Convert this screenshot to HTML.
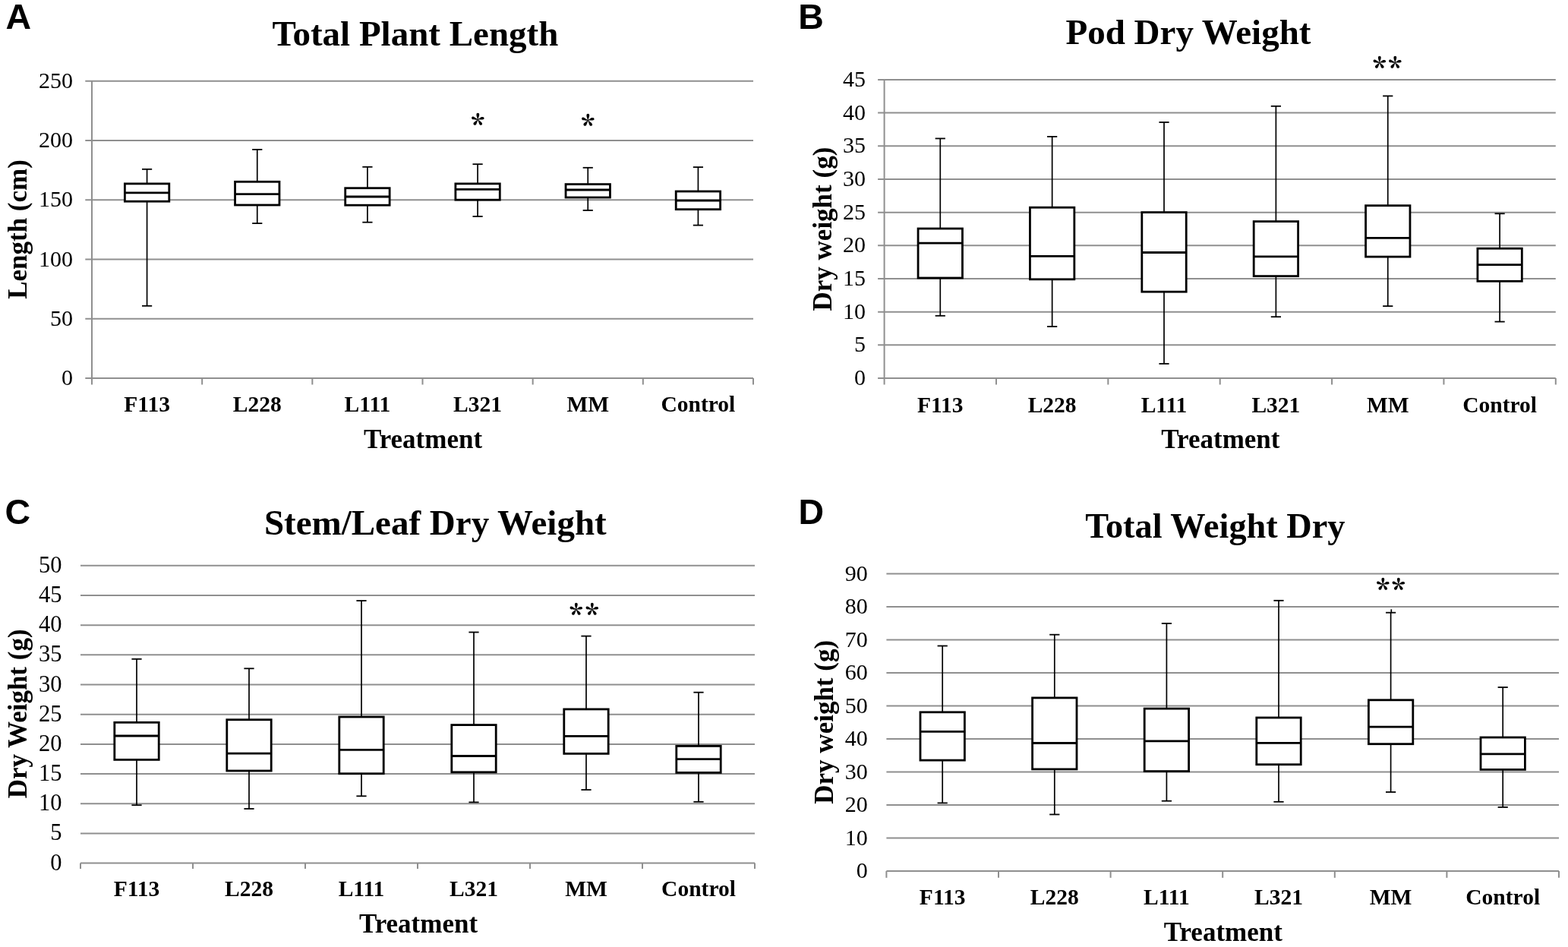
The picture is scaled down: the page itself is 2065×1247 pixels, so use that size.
<!DOCTYPE html>
<html><head><meta charset="utf-8"><title>Figure</title>
<style>
html,body{margin:0;padding:0;background:#fff;}
body{width:2065px;height:1247px;overflow:hidden;}
svg{display:block;}
</style></head><body>
<svg width="2065" height="1247" viewBox="0 0 2065 1247">
<rect width="2065" height="1247" fill="#fff"/>
<line x1="112.3" y1="498" x2="992" y2="498" stroke="#8f8f8f" stroke-width="2" stroke-linecap="butt"/>
<text x="96" y="507" font-family="'Liberation Serif', 'Times New Roman', serif" font-size="30" font-weight="normal" text-anchor="end">0</text>
<line x1="112.3" y1="419.75" x2="992" y2="419.75" stroke="#8f8f8f" stroke-width="2" stroke-linecap="butt"/>
<text x="96" y="428.75" font-family="'Liberation Serif', 'Times New Roman', serif" font-size="30" font-weight="normal" text-anchor="end">50</text>
<line x1="112.3" y1="341.5" x2="992" y2="341.5" stroke="#8f8f8f" stroke-width="2" stroke-linecap="butt"/>
<text x="96" y="350.5" font-family="'Liberation Serif', 'Times New Roman', serif" font-size="30" font-weight="normal" text-anchor="end">100</text>
<line x1="112.3" y1="263.25" x2="992" y2="263.25" stroke="#8f8f8f" stroke-width="2" stroke-linecap="butt"/>
<text x="96" y="272.25" font-family="'Liberation Serif', 'Times New Roman', serif" font-size="30" font-weight="normal" text-anchor="end">150</text>
<line x1="112.3" y1="185" x2="992" y2="185" stroke="#8f8f8f" stroke-width="2" stroke-linecap="butt"/>
<text x="96" y="194" font-family="'Liberation Serif', 'Times New Roman', serif" font-size="30" font-weight="normal" text-anchor="end">200</text>
<line x1="112.3" y1="106.75" x2="992" y2="106.75" stroke="#8f8f8f" stroke-width="2" stroke-linecap="butt"/>
<text x="96" y="115.75" font-family="'Liberation Serif', 'Times New Roman', serif" font-size="30" font-weight="normal" text-anchor="end">250</text>
<line x1="121" y1="105.95" x2="121" y2="498.8" stroke="#8f8f8f" stroke-width="2" stroke-linecap="butt"/>
<line x1="121" y1="498" x2="121" y2="506.5" stroke="#8f8f8f" stroke-width="2" stroke-linecap="butt"/>
<line x1="266.17" y1="498" x2="266.17" y2="506.5" stroke="#8f8f8f" stroke-width="2" stroke-linecap="butt"/>
<line x1="411.33" y1="498" x2="411.33" y2="506.5" stroke="#8f8f8f" stroke-width="2" stroke-linecap="butt"/>
<line x1="556.5" y1="498" x2="556.5" y2="506.5" stroke="#8f8f8f" stroke-width="2" stroke-linecap="butt"/>
<line x1="701.67" y1="498" x2="701.67" y2="506.5" stroke="#8f8f8f" stroke-width="2" stroke-linecap="butt"/>
<line x1="846.83" y1="498" x2="846.83" y2="506.5" stroke="#8f8f8f" stroke-width="2" stroke-linecap="butt"/>
<line x1="992" y1="498" x2="992" y2="506.5" stroke="#8f8f8f" stroke-width="2" stroke-linecap="butt"/>
<text x="193.58" y="542.4" font-family="'Liberation Serif', 'Times New Roman', serif" font-size="29.5" font-weight="bold" text-anchor="middle">F113</text>
<text x="338.75" y="542.4" font-family="'Liberation Serif', 'Times New Roman', serif" font-size="29.5" font-weight="bold" text-anchor="middle">L228</text>
<text x="483.92" y="542.4" font-family="'Liberation Serif', 'Times New Roman', serif" font-size="29.5" font-weight="bold" text-anchor="middle">L111</text>
<text x="629.08" y="542.4" font-family="'Liberation Serif', 'Times New Roman', serif" font-size="29.5" font-weight="bold" text-anchor="middle">L321</text>
<text x="774.25" y="542.4" font-family="'Liberation Serif', 'Times New Roman', serif" font-size="29.5" font-weight="bold" text-anchor="middle">MM</text>
<text x="919.42" y="542.4" font-family="'Liberation Serif', 'Times New Roman', serif" font-size="29.5" font-weight="bold" text-anchor="middle">Control</text>
<line x1="193.58" y1="222.8" x2="193.58" y2="241.9" stroke="#000" stroke-width="1.7" stroke-linecap="butt"/>
<line x1="193.58" y1="265.2" x2="193.58" y2="402.8" stroke="#000" stroke-width="1.7" stroke-linecap="butt"/>
<line x1="186.98" y1="222.8" x2="200.18" y2="222.8" stroke="#000" stroke-width="1.8" stroke-linecap="butt"/>
<line x1="186.98" y1="402.8" x2="200.18" y2="402.8" stroke="#000" stroke-width="1.8" stroke-linecap="butt"/>
<rect x="164.38" y="241.9" width="58.4" height="23.3" fill="#fff" stroke="#000" stroke-width="2.8"/>
<line x1="164.38" y1="253.9" x2="222.78" y2="253.9" stroke="#000" stroke-width="2.8" stroke-linecap="butt"/>
<line x1="338.75" y1="196.9" x2="338.75" y2="239.3" stroke="#000" stroke-width="1.7" stroke-linecap="butt"/>
<line x1="338.75" y1="270" x2="338.75" y2="294.1" stroke="#000" stroke-width="1.7" stroke-linecap="butt"/>
<line x1="332.15" y1="196.9" x2="345.35" y2="196.9" stroke="#000" stroke-width="1.8" stroke-linecap="butt"/>
<line x1="332.15" y1="294.1" x2="345.35" y2="294.1" stroke="#000" stroke-width="1.8" stroke-linecap="butt"/>
<rect x="309.55" y="239.3" width="58.4" height="30.7" fill="#fff" stroke="#000" stroke-width="2.8"/>
<line x1="309.55" y1="255.6" x2="367.95" y2="255.6" stroke="#000" stroke-width="2.8" stroke-linecap="butt"/>
<line x1="483.92" y1="219.8" x2="483.92" y2="247.7" stroke="#000" stroke-width="1.7" stroke-linecap="butt"/>
<line x1="483.92" y1="270.2" x2="483.92" y2="292.7" stroke="#000" stroke-width="1.7" stroke-linecap="butt"/>
<line x1="477.32" y1="219.8" x2="490.52" y2="219.8" stroke="#000" stroke-width="1.8" stroke-linecap="butt"/>
<line x1="477.32" y1="292.7" x2="490.52" y2="292.7" stroke="#000" stroke-width="1.8" stroke-linecap="butt"/>
<rect x="454.72" y="247.7" width="58.4" height="22.5" fill="#fff" stroke="#000" stroke-width="2.8"/>
<line x1="454.72" y1="259" x2="513.12" y2="259" stroke="#000" stroke-width="2.8" stroke-linecap="butt"/>
<line x1="629.08" y1="216.2" x2="629.08" y2="241.9" stroke="#000" stroke-width="1.7" stroke-linecap="butt"/>
<line x1="629.08" y1="263.2" x2="629.08" y2="285" stroke="#000" stroke-width="1.7" stroke-linecap="butt"/>
<line x1="622.48" y1="216.2" x2="635.68" y2="216.2" stroke="#000" stroke-width="1.8" stroke-linecap="butt"/>
<line x1="622.48" y1="285" x2="635.68" y2="285" stroke="#000" stroke-width="1.8" stroke-linecap="butt"/>
<rect x="599.88" y="241.9" width="58.4" height="21.3" fill="#fff" stroke="#000" stroke-width="2.8"/>
<line x1="599.88" y1="249.4" x2="658.28" y2="249.4" stroke="#000" stroke-width="2.8" stroke-linecap="butt"/>
<line x1="774.25" y1="220.8" x2="774.25" y2="242.6" stroke="#000" stroke-width="1.7" stroke-linecap="butt"/>
<line x1="774.25" y1="260" x2="774.25" y2="277" stroke="#000" stroke-width="1.7" stroke-linecap="butt"/>
<line x1="767.65" y1="220.8" x2="780.85" y2="220.8" stroke="#000" stroke-width="1.8" stroke-linecap="butt"/>
<line x1="767.65" y1="277" x2="780.85" y2="277" stroke="#000" stroke-width="1.8" stroke-linecap="butt"/>
<rect x="745.05" y="242.6" width="58.4" height="17.4" fill="#fff" stroke="#000" stroke-width="2.8"/>
<line x1="745.05" y1="250" x2="803.45" y2="250" stroke="#000" stroke-width="2.8" stroke-linecap="butt"/>
<line x1="919.42" y1="220.1" x2="919.42" y2="252" stroke="#000" stroke-width="1.7" stroke-linecap="butt"/>
<line x1="919.42" y1="275.7" x2="919.42" y2="296.6" stroke="#000" stroke-width="1.7" stroke-linecap="butt"/>
<line x1="912.82" y1="220.1" x2="926.02" y2="220.1" stroke="#000" stroke-width="1.8" stroke-linecap="butt"/>
<line x1="912.82" y1="296.6" x2="926.02" y2="296.6" stroke="#000" stroke-width="1.8" stroke-linecap="butt"/>
<rect x="890.22" y="252" width="58.4" height="23.7" fill="#fff" stroke="#000" stroke-width="2.8"/>
<line x1="890.22" y1="264" x2="948.62" y2="264" stroke="#000" stroke-width="2.8" stroke-linecap="butt"/>
<text x="358.4" y="59.8" font-family="'Liberation Serif', 'Times New Roman', serif" font-size="47" font-weight="bold" text-anchor="start">Total Plant Length</text>
<text x="557" y="589.6" font-family="'Liberation Serif', 'Times New Roman', serif" font-size="35" font-weight="bold" text-anchor="middle">Treatment</text>
<text transform="translate(34.5,302) rotate(-90)" font-family="'Liberation Serif', 'Times New Roman', serif" font-size="35" font-weight="bold" text-anchor="middle">Length (cm)</text>
<text x="7.6" y="38.3" font-family="'Liberation Sans', Arial, sans-serif" font-size="46.5" font-weight="bold" text-anchor="start">A</text>
<text x="620.4" y="179.4" font-family="'Noto Serif CJK SC', 'Noto Serif CJK JP', 'Liberation Serif', serif" font-size="36" font-weight="900">*</text>
<text x="765.5" y="180.3" font-family="'Noto Serif CJK SC', 'Noto Serif CJK JP', 'Liberation Serif', serif" font-size="36" font-weight="900">*</text>
<line x1="1156.1" y1="498" x2="2048.8" y2="498" stroke="#8f8f8f" stroke-width="2" stroke-linecap="butt"/>
<text x="1140" y="507" font-family="'Liberation Serif', 'Times New Roman', serif" font-size="30" font-weight="normal" text-anchor="end">0</text>
<line x1="1156.1" y1="454.33" x2="2048.8" y2="454.33" stroke="#8f8f8f" stroke-width="2" stroke-linecap="butt"/>
<text x="1140" y="463.33" font-family="'Liberation Serif', 'Times New Roman', serif" font-size="30" font-weight="normal" text-anchor="end">5</text>
<line x1="1156.1" y1="410.66" x2="2048.8" y2="410.66" stroke="#8f8f8f" stroke-width="2" stroke-linecap="butt"/>
<text x="1140" y="419.66" font-family="'Liberation Serif', 'Times New Roman', serif" font-size="30" font-weight="normal" text-anchor="end">10</text>
<line x1="1156.1" y1="366.98" x2="2048.8" y2="366.98" stroke="#8f8f8f" stroke-width="2" stroke-linecap="butt"/>
<text x="1140" y="375.98" font-family="'Liberation Serif', 'Times New Roman', serif" font-size="30" font-weight="normal" text-anchor="end">15</text>
<line x1="1156.1" y1="323.31" x2="2048.8" y2="323.31" stroke="#8f8f8f" stroke-width="2" stroke-linecap="butt"/>
<text x="1140" y="332.31" font-family="'Liberation Serif', 'Times New Roman', serif" font-size="30" font-weight="normal" text-anchor="end">20</text>
<line x1="1156.1" y1="279.64" x2="2048.8" y2="279.64" stroke="#8f8f8f" stroke-width="2" stroke-linecap="butt"/>
<text x="1140" y="288.64" font-family="'Liberation Serif', 'Times New Roman', serif" font-size="30" font-weight="normal" text-anchor="end">25</text>
<line x1="1156.1" y1="235.97" x2="2048.8" y2="235.97" stroke="#8f8f8f" stroke-width="2" stroke-linecap="butt"/>
<text x="1140" y="244.97" font-family="'Liberation Serif', 'Times New Roman', serif" font-size="30" font-weight="normal" text-anchor="end">30</text>
<line x1="1156.1" y1="192.29" x2="2048.8" y2="192.29" stroke="#8f8f8f" stroke-width="2" stroke-linecap="butt"/>
<text x="1140" y="201.29" font-family="'Liberation Serif', 'Times New Roman', serif" font-size="30" font-weight="normal" text-anchor="end">35</text>
<line x1="1156.1" y1="148.62" x2="2048.8" y2="148.62" stroke="#8f8f8f" stroke-width="2" stroke-linecap="butt"/>
<text x="1140" y="157.62" font-family="'Liberation Serif', 'Times New Roman', serif" font-size="30" font-weight="normal" text-anchor="end">40</text>
<line x1="1156.1" y1="104.95" x2="2048.8" y2="104.95" stroke="#8f8f8f" stroke-width="2" stroke-linecap="butt"/>
<text x="1140" y="113.95" font-family="'Liberation Serif', 'Times New Roman', serif" font-size="30" font-weight="normal" text-anchor="end">45</text>
<line x1="1164.6" y1="104.15" x2="1164.6" y2="498.8" stroke="#8f8f8f" stroke-width="2" stroke-linecap="butt"/>
<line x1="1164.6" y1="498" x2="1164.6" y2="506.5" stroke="#8f8f8f" stroke-width="2" stroke-linecap="butt"/>
<line x1="1311.97" y1="498" x2="1311.97" y2="506.5" stroke="#8f8f8f" stroke-width="2" stroke-linecap="butt"/>
<line x1="1459.33" y1="498" x2="1459.33" y2="506.5" stroke="#8f8f8f" stroke-width="2" stroke-linecap="butt"/>
<line x1="1606.7" y1="498" x2="1606.7" y2="506.5" stroke="#8f8f8f" stroke-width="2" stroke-linecap="butt"/>
<line x1="1754.07" y1="498" x2="1754.07" y2="506.5" stroke="#8f8f8f" stroke-width="2" stroke-linecap="butt"/>
<line x1="1901.43" y1="498" x2="1901.43" y2="506.5" stroke="#8f8f8f" stroke-width="2" stroke-linecap="butt"/>
<line x1="2048.8" y1="498" x2="2048.8" y2="506.5" stroke="#8f8f8f" stroke-width="2" stroke-linecap="butt"/>
<text x="1238.28" y="542.6" font-family="'Liberation Serif', 'Times New Roman', serif" font-size="29.5" font-weight="bold" text-anchor="middle">F113</text>
<text x="1385.65" y="542.6" font-family="'Liberation Serif', 'Times New Roman', serif" font-size="29.5" font-weight="bold" text-anchor="middle">L228</text>
<text x="1533.02" y="542.6" font-family="'Liberation Serif', 'Times New Roman', serif" font-size="29.5" font-weight="bold" text-anchor="middle">L111</text>
<text x="1680.38" y="542.6" font-family="'Liberation Serif', 'Times New Roman', serif" font-size="29.5" font-weight="bold" text-anchor="middle">L321</text>
<text x="1827.75" y="542.6" font-family="'Liberation Serif', 'Times New Roman', serif" font-size="29.5" font-weight="bold" text-anchor="middle">MM</text>
<text x="1975.12" y="542.6" font-family="'Liberation Serif', 'Times New Roman', serif" font-size="29.5" font-weight="bold" text-anchor="middle">Control</text>
<line x1="1238.28" y1="182.4" x2="1238.28" y2="301" stroke="#000" stroke-width="1.7" stroke-linecap="butt"/>
<line x1="1238.28" y1="366" x2="1238.28" y2="415.8" stroke="#000" stroke-width="1.7" stroke-linecap="butt"/>
<line x1="1231.68" y1="182.4" x2="1244.88" y2="182.4" stroke="#000" stroke-width="1.8" stroke-linecap="butt"/>
<line x1="1231.68" y1="415.8" x2="1244.88" y2="415.8" stroke="#000" stroke-width="1.8" stroke-linecap="butt"/>
<rect x="1209.08" y="301" width="58.4" height="65" fill="#fff" stroke="#000" stroke-width="2.8"/>
<line x1="1209.08" y1="320.1" x2="1267.48" y2="320.1" stroke="#000" stroke-width="2.8" stroke-linecap="butt"/>
<line x1="1385.65" y1="179.9" x2="1385.65" y2="273.2" stroke="#000" stroke-width="1.7" stroke-linecap="butt"/>
<line x1="1385.65" y1="367.8" x2="1385.65" y2="430" stroke="#000" stroke-width="1.7" stroke-linecap="butt"/>
<line x1="1379.05" y1="179.9" x2="1392.25" y2="179.9" stroke="#000" stroke-width="1.8" stroke-linecap="butt"/>
<line x1="1379.05" y1="430" x2="1392.25" y2="430" stroke="#000" stroke-width="1.8" stroke-linecap="butt"/>
<rect x="1356.45" y="273.2" width="58.4" height="94.6" fill="#fff" stroke="#000" stroke-width="2.8"/>
<line x1="1356.45" y1="337.3" x2="1414.85" y2="337.3" stroke="#000" stroke-width="2.8" stroke-linecap="butt"/>
<line x1="1533.02" y1="161" x2="1533.02" y2="279.6" stroke="#000" stroke-width="1.7" stroke-linecap="butt"/>
<line x1="1533.02" y1="384.2" x2="1533.02" y2="479" stroke="#000" stroke-width="1.7" stroke-linecap="butt"/>
<line x1="1526.42" y1="161" x2="1539.62" y2="161" stroke="#000" stroke-width="1.8" stroke-linecap="butt"/>
<line x1="1526.42" y1="479" x2="1539.62" y2="479" stroke="#000" stroke-width="1.8" stroke-linecap="butt"/>
<rect x="1503.82" y="279.6" width="58.4" height="104.6" fill="#fff" stroke="#000" stroke-width="2.8"/>
<line x1="1503.82" y1="332.5" x2="1562.22" y2="332.5" stroke="#000" stroke-width="2.8" stroke-linecap="butt"/>
<line x1="1680.38" y1="139.8" x2="1680.38" y2="291.6" stroke="#000" stroke-width="1.7" stroke-linecap="butt"/>
<line x1="1680.38" y1="363.6" x2="1680.38" y2="417.2" stroke="#000" stroke-width="1.7" stroke-linecap="butt"/>
<line x1="1673.78" y1="139.8" x2="1686.98" y2="139.8" stroke="#000" stroke-width="1.8" stroke-linecap="butt"/>
<line x1="1673.78" y1="417.2" x2="1686.98" y2="417.2" stroke="#000" stroke-width="1.8" stroke-linecap="butt"/>
<rect x="1651.18" y="291.6" width="58.4" height="72" fill="#fff" stroke="#000" stroke-width="2.8"/>
<line x1="1651.18" y1="337.8" x2="1709.58" y2="337.8" stroke="#000" stroke-width="2.8" stroke-linecap="butt"/>
<line x1="1827.75" y1="126.4" x2="1827.75" y2="270.7" stroke="#000" stroke-width="1.7" stroke-linecap="butt"/>
<line x1="1827.75" y1="338.1" x2="1827.75" y2="403.1" stroke="#000" stroke-width="1.7" stroke-linecap="butt"/>
<line x1="1821.15" y1="126.4" x2="1834.35" y2="126.4" stroke="#000" stroke-width="1.8" stroke-linecap="butt"/>
<line x1="1821.15" y1="403.1" x2="1834.35" y2="403.1" stroke="#000" stroke-width="1.8" stroke-linecap="butt"/>
<rect x="1798.55" y="270.7" width="58.4" height="67.4" fill="#fff" stroke="#000" stroke-width="2.8"/>
<line x1="1798.55" y1="313.4" x2="1856.95" y2="313.4" stroke="#000" stroke-width="2.8" stroke-linecap="butt"/>
<line x1="1975.12" y1="281.3" x2="1975.12" y2="327.2" stroke="#000" stroke-width="1.7" stroke-linecap="butt"/>
<line x1="1975.12" y1="370.3" x2="1975.12" y2="423.6" stroke="#000" stroke-width="1.7" stroke-linecap="butt"/>
<line x1="1968.52" y1="281.3" x2="1981.72" y2="281.3" stroke="#000" stroke-width="1.8" stroke-linecap="butt"/>
<line x1="1968.52" y1="423.6" x2="1981.72" y2="423.6" stroke="#000" stroke-width="1.8" stroke-linecap="butt"/>
<rect x="1945.92" y="327.2" width="58.4" height="43.1" fill="#fff" stroke="#000" stroke-width="2.8"/>
<line x1="1945.92" y1="348.7" x2="2004.32" y2="348.7" stroke="#000" stroke-width="2.8" stroke-linecap="butt"/>
<text x="1403.5" y="57.5" font-family="'Liberation Serif', 'Times New Roman', serif" font-size="47" font-weight="bold" text-anchor="start">Pod Dry Weight</text>
<text x="1607.4" y="589.6" font-family="'Liberation Serif', 'Times New Roman', serif" font-size="35" font-weight="bold" text-anchor="middle">Treatment</text>
<text transform="translate(1094.8,301.6) rotate(-90)" font-family="'Liberation Serif', 'Times New Roman', serif" font-size="35" font-weight="bold" text-anchor="middle">Dry weight (g)</text>
<text x="1051.2" y="38.1" font-family="'Liberation Sans', Arial, sans-serif" font-size="46.5" font-weight="bold" text-anchor="start">B</text>
<text x="1808" y="103.6" font-family="'Noto Serif CJK SC', 'Noto Serif CJK JP', 'Liberation Serif', serif" font-size="36" font-weight="900" letter-spacing="3">**</text>
<line x1="106" y1="1136.6" x2="994" y2="1136.6" stroke="#8f8f8f" stroke-width="2" stroke-linecap="butt"/>
<text x="81.5" y="1145.6" font-family="'Liberation Serif', 'Times New Roman', serif" font-size="30.5" font-weight="normal" text-anchor="end">0</text>
<line x1="106" y1="1097.42" x2="994" y2="1097.42" stroke="#8f8f8f" stroke-width="2" stroke-linecap="butt"/>
<text x="81.5" y="1106.42" font-family="'Liberation Serif', 'Times New Roman', serif" font-size="30.5" font-weight="normal" text-anchor="end">5</text>
<line x1="106" y1="1058.24" x2="994" y2="1058.24" stroke="#8f8f8f" stroke-width="2" stroke-linecap="butt"/>
<text x="81.5" y="1067.24" font-family="'Liberation Serif', 'Times New Roman', serif" font-size="30.5" font-weight="normal" text-anchor="end">10</text>
<line x1="106" y1="1019.06" x2="994" y2="1019.06" stroke="#8f8f8f" stroke-width="2" stroke-linecap="butt"/>
<text x="81.5" y="1028.06" font-family="'Liberation Serif', 'Times New Roman', serif" font-size="30.5" font-weight="normal" text-anchor="end">15</text>
<line x1="106" y1="979.88" x2="994" y2="979.88" stroke="#8f8f8f" stroke-width="2" stroke-linecap="butt"/>
<text x="81.5" y="988.88" font-family="'Liberation Serif', 'Times New Roman', serif" font-size="30.5" font-weight="normal" text-anchor="end">20</text>
<line x1="106" y1="940.7" x2="994" y2="940.7" stroke="#8f8f8f" stroke-width="2" stroke-linecap="butt"/>
<text x="81.5" y="949.7" font-family="'Liberation Serif', 'Times New Roman', serif" font-size="30.5" font-weight="normal" text-anchor="end">25</text>
<line x1="106" y1="901.52" x2="994" y2="901.52" stroke="#8f8f8f" stroke-width="2" stroke-linecap="butt"/>
<text x="81.5" y="910.52" font-family="'Liberation Serif', 'Times New Roman', serif" font-size="30.5" font-weight="normal" text-anchor="end">30</text>
<line x1="106" y1="862.34" x2="994" y2="862.34" stroke="#8f8f8f" stroke-width="2" stroke-linecap="butt"/>
<text x="81.5" y="871.34" font-family="'Liberation Serif', 'Times New Roman', serif" font-size="30.5" font-weight="normal" text-anchor="end">35</text>
<line x1="106" y1="823.16" x2="994" y2="823.16" stroke="#8f8f8f" stroke-width="2" stroke-linecap="butt"/>
<text x="81.5" y="832.16" font-family="'Liberation Serif', 'Times New Roman', serif" font-size="30.5" font-weight="normal" text-anchor="end">40</text>
<line x1="106" y1="783.98" x2="994" y2="783.98" stroke="#8f8f8f" stroke-width="2" stroke-linecap="butt"/>
<text x="81.5" y="792.98" font-family="'Liberation Serif', 'Times New Roman', serif" font-size="30.5" font-weight="normal" text-anchor="end">45</text>
<line x1="106" y1="744.8" x2="994" y2="744.8" stroke="#8f8f8f" stroke-width="2" stroke-linecap="butt"/>
<text x="81.5" y="753.8" font-family="'Liberation Serif', 'Times New Roman', serif" font-size="30.5" font-weight="normal" text-anchor="end">50</text>
<line x1="106" y1="1136.6" x2="106" y2="1144.1" stroke="#8f8f8f" stroke-width="2" stroke-linecap="butt"/>
<line x1="254" y1="1136.6" x2="254" y2="1144.1" stroke="#8f8f8f" stroke-width="2" stroke-linecap="butt"/>
<line x1="402" y1="1136.6" x2="402" y2="1144.1" stroke="#8f8f8f" stroke-width="2" stroke-linecap="butt"/>
<line x1="550" y1="1136.6" x2="550" y2="1144.1" stroke="#8f8f8f" stroke-width="2" stroke-linecap="butt"/>
<line x1="698" y1="1136.6" x2="698" y2="1144.1" stroke="#8f8f8f" stroke-width="2" stroke-linecap="butt"/>
<line x1="846" y1="1136.6" x2="846" y2="1144.1" stroke="#8f8f8f" stroke-width="2" stroke-linecap="butt"/>
<line x1="994" y1="1136.6" x2="994" y2="1144.1" stroke="#8f8f8f" stroke-width="2" stroke-linecap="butt"/>
<text x="180" y="1180.4" font-family="'Liberation Serif', 'Times New Roman', serif" font-size="29.5" font-weight="bold" text-anchor="middle">F113</text>
<text x="328" y="1180.4" font-family="'Liberation Serif', 'Times New Roman', serif" font-size="29.5" font-weight="bold" text-anchor="middle">L228</text>
<text x="476" y="1180.4" font-family="'Liberation Serif', 'Times New Roman', serif" font-size="29.5" font-weight="bold" text-anchor="middle">L111</text>
<text x="624" y="1180.4" font-family="'Liberation Serif', 'Times New Roman', serif" font-size="29.5" font-weight="bold" text-anchor="middle">L321</text>
<text x="772" y="1180.4" font-family="'Liberation Serif', 'Times New Roman', serif" font-size="29.5" font-weight="bold" text-anchor="middle">MM</text>
<text x="920" y="1180.4" font-family="'Liberation Serif', 'Times New Roman', serif" font-size="29.5" font-weight="bold" text-anchor="middle">Control</text>
<line x1="180" y1="867.8" x2="180" y2="951.3" stroke="#000" stroke-width="1.7" stroke-linecap="butt"/>
<line x1="180" y1="1000.4" x2="180" y2="1060.2" stroke="#000" stroke-width="1.7" stroke-linecap="butt"/>
<line x1="173.4" y1="867.8" x2="186.6" y2="867.8" stroke="#000" stroke-width="1.8" stroke-linecap="butt"/>
<line x1="173.4" y1="1060.2" x2="186.6" y2="1060.2" stroke="#000" stroke-width="1.8" stroke-linecap="butt"/>
<rect x="150.8" y="951.3" width="58.4" height="49.1" fill="#fff" stroke="#000" stroke-width="2.8"/>
<line x1="150.8" y1="969" x2="209.2" y2="969" stroke="#000" stroke-width="2.8" stroke-linecap="butt"/>
<line x1="328" y1="880.3" x2="328" y2="947.7" stroke="#000" stroke-width="1.7" stroke-linecap="butt"/>
<line x1="328" y1="1015" x2="328" y2="1065" stroke="#000" stroke-width="1.7" stroke-linecap="butt"/>
<line x1="321.4" y1="880.3" x2="334.6" y2="880.3" stroke="#000" stroke-width="1.8" stroke-linecap="butt"/>
<line x1="321.4" y1="1065" x2="334.6" y2="1065" stroke="#000" stroke-width="1.8" stroke-linecap="butt"/>
<rect x="298.8" y="947.7" width="58.4" height="67.3" fill="#fff" stroke="#000" stroke-width="2.8"/>
<line x1="298.8" y1="992.2" x2="357.2" y2="992.2" stroke="#000" stroke-width="2.8" stroke-linecap="butt"/>
<line x1="476" y1="791" x2="476" y2="944" stroke="#000" stroke-width="1.7" stroke-linecap="butt"/>
<line x1="476" y1="1018.7" x2="476" y2="1048.3" stroke="#000" stroke-width="1.7" stroke-linecap="butt"/>
<line x1="469.4" y1="791" x2="482.6" y2="791" stroke="#000" stroke-width="1.8" stroke-linecap="butt"/>
<line x1="469.4" y1="1048.3" x2="482.6" y2="1048.3" stroke="#000" stroke-width="1.8" stroke-linecap="butt"/>
<rect x="446.8" y="944" width="58.4" height="74.7" fill="#fff" stroke="#000" stroke-width="2.8"/>
<line x1="446.8" y1="987.3" x2="505.2" y2="987.3" stroke="#000" stroke-width="2.8" stroke-linecap="butt"/>
<line x1="624" y1="832.5" x2="624" y2="954.6" stroke="#000" stroke-width="1.7" stroke-linecap="butt"/>
<line x1="624" y1="1016.8" x2="624" y2="1056.4" stroke="#000" stroke-width="1.7" stroke-linecap="butt"/>
<line x1="617.4" y1="832.5" x2="630.6" y2="832.5" stroke="#000" stroke-width="1.8" stroke-linecap="butt"/>
<line x1="617.4" y1="1056.4" x2="630.6" y2="1056.4" stroke="#000" stroke-width="1.8" stroke-linecap="butt"/>
<rect x="594.8" y="954.6" width="58.4" height="62.2" fill="#fff" stroke="#000" stroke-width="2.8"/>
<line x1="594.8" y1="995.5" x2="653.2" y2="995.5" stroke="#000" stroke-width="2.8" stroke-linecap="butt"/>
<line x1="772" y1="837.6" x2="772" y2="933.9" stroke="#000" stroke-width="1.7" stroke-linecap="butt"/>
<line x1="772" y1="992.4" x2="772" y2="1040" stroke="#000" stroke-width="1.7" stroke-linecap="butt"/>
<line x1="765.4" y1="837.6" x2="778.6" y2="837.6" stroke="#000" stroke-width="1.8" stroke-linecap="butt"/>
<line x1="765.4" y1="1040" x2="778.6" y2="1040" stroke="#000" stroke-width="1.8" stroke-linecap="butt"/>
<rect x="742.8" y="933.9" width="58.4" height="58.5" fill="#fff" stroke="#000" stroke-width="2.8"/>
<line x1="742.8" y1="969.3" x2="801.2" y2="969.3" stroke="#000" stroke-width="2.8" stroke-linecap="butt"/>
<line x1="920" y1="911.7" x2="920" y2="982.4" stroke="#000" stroke-width="1.7" stroke-linecap="butt"/>
<line x1="920" y1="1017.4" x2="920" y2="1055.8" stroke="#000" stroke-width="1.7" stroke-linecap="butt"/>
<line x1="913.4" y1="911.7" x2="926.6" y2="911.7" stroke="#000" stroke-width="1.8" stroke-linecap="butt"/>
<line x1="913.4" y1="1055.8" x2="926.6" y2="1055.8" stroke="#000" stroke-width="1.8" stroke-linecap="butt"/>
<rect x="890.8" y="982.4" width="58.4" height="35" fill="#fff" stroke="#000" stroke-width="2.8"/>
<line x1="890.8" y1="999.7" x2="949.2" y2="999.7" stroke="#000" stroke-width="2.8" stroke-linecap="butt"/>
<text x="347.9" y="703.8" font-family="'Liberation Serif', 'Times New Roman', serif" font-size="47" font-weight="bold" text-anchor="start">Stem/Leaf Dry Weight</text>
<text x="551" y="1228" font-family="'Liberation Serif', 'Times New Roman', serif" font-size="35" font-weight="bold" text-anchor="middle">Treatment</text>
<text transform="translate(35.3,939.9) rotate(-90)" font-family="'Liberation Serif', 'Times New Roman', serif" font-size="35" font-weight="bold" text-anchor="middle">Dry Weight (g)</text>
<text x="6.5" y="689.5" font-family="'Liberation Sans', Arial, sans-serif" font-size="46.5" font-weight="bold" text-anchor="start">C</text>
<text x="749.9" y="823.8" font-family="'Noto Serif CJK SC', 'Noto Serif CJK JP', 'Liberation Serif', serif" font-size="36" font-weight="900" letter-spacing="3.4">**</text>
<line x1="1167.4" y1="1147.05" x2="2053" y2="1147.05" stroke="#8f8f8f" stroke-width="2" stroke-linecap="butt"/>
<text x="1142.8" y="1156.05" font-family="'Liberation Serif', 'Times New Roman', serif" font-size="30" font-weight="normal" text-anchor="end">0</text>
<line x1="1167.4" y1="1103.54" x2="2053" y2="1103.54" stroke="#8f8f8f" stroke-width="2" stroke-linecap="butt"/>
<text x="1142.8" y="1112.54" font-family="'Liberation Serif', 'Times New Roman', serif" font-size="30" font-weight="normal" text-anchor="end">10</text>
<line x1="1167.4" y1="1060.04" x2="2053" y2="1060.04" stroke="#8f8f8f" stroke-width="2" stroke-linecap="butt"/>
<text x="1142.8" y="1069.04" font-family="'Liberation Serif', 'Times New Roman', serif" font-size="30" font-weight="normal" text-anchor="end">20</text>
<line x1="1167.4" y1="1016.53" x2="2053" y2="1016.53" stroke="#8f8f8f" stroke-width="2" stroke-linecap="butt"/>
<text x="1142.8" y="1025.53" font-family="'Liberation Serif', 'Times New Roman', serif" font-size="30" font-weight="normal" text-anchor="end">30</text>
<line x1="1167.4" y1="973.03" x2="2053" y2="973.03" stroke="#8f8f8f" stroke-width="2" stroke-linecap="butt"/>
<text x="1142.8" y="982.03" font-family="'Liberation Serif', 'Times New Roman', serif" font-size="30" font-weight="normal" text-anchor="end">40</text>
<line x1="1167.4" y1="929.52" x2="2053" y2="929.52" stroke="#8f8f8f" stroke-width="2" stroke-linecap="butt"/>
<text x="1142.8" y="938.52" font-family="'Liberation Serif', 'Times New Roman', serif" font-size="30" font-weight="normal" text-anchor="end">50</text>
<line x1="1167.4" y1="886.02" x2="2053" y2="886.02" stroke="#8f8f8f" stroke-width="2" stroke-linecap="butt"/>
<text x="1142.8" y="895.02" font-family="'Liberation Serif', 'Times New Roman', serif" font-size="30" font-weight="normal" text-anchor="end">60</text>
<line x1="1167.4" y1="842.51" x2="2053" y2="842.51" stroke="#8f8f8f" stroke-width="2" stroke-linecap="butt"/>
<text x="1142.8" y="851.51" font-family="'Liberation Serif', 'Times New Roman', serif" font-size="30" font-weight="normal" text-anchor="end">70</text>
<line x1="1167.4" y1="799.01" x2="2053" y2="799.01" stroke="#8f8f8f" stroke-width="2" stroke-linecap="butt"/>
<text x="1142.8" y="808.01" font-family="'Liberation Serif', 'Times New Roman', serif" font-size="30" font-weight="normal" text-anchor="end">80</text>
<line x1="1167.4" y1="755.5" x2="2053" y2="755.5" stroke="#8f8f8f" stroke-width="2" stroke-linecap="butt"/>
<text x="1142.8" y="764.5" font-family="'Liberation Serif', 'Times New Roman', serif" font-size="30" font-weight="normal" text-anchor="end">90</text>
<line x1="1167.4" y1="1147.05" x2="1167.4" y2="1155.85" stroke="#8f8f8f" stroke-width="2" stroke-linecap="butt"/>
<line x1="1315" y1="1147.05" x2="1315" y2="1155.85" stroke="#8f8f8f" stroke-width="2" stroke-linecap="butt"/>
<line x1="1462.6" y1="1147.05" x2="1462.6" y2="1155.85" stroke="#8f8f8f" stroke-width="2" stroke-linecap="butt"/>
<line x1="1610.2" y1="1147.05" x2="1610.2" y2="1155.85" stroke="#8f8f8f" stroke-width="2" stroke-linecap="butt"/>
<line x1="1757.8" y1="1147.05" x2="1757.8" y2="1155.85" stroke="#8f8f8f" stroke-width="2" stroke-linecap="butt"/>
<line x1="1905.4" y1="1147.05" x2="1905.4" y2="1155.85" stroke="#8f8f8f" stroke-width="2" stroke-linecap="butt"/>
<line x1="2053" y1="1147.05" x2="2053" y2="1155.85" stroke="#8f8f8f" stroke-width="2" stroke-linecap="butt"/>
<text x="1241.2" y="1190.7" font-family="'Liberation Serif', 'Times New Roman', serif" font-size="29.5" font-weight="bold" text-anchor="middle">F113</text>
<text x="1388.8" y="1190.7" font-family="'Liberation Serif', 'Times New Roman', serif" font-size="29.5" font-weight="bold" text-anchor="middle">L228</text>
<text x="1536.4" y="1190.7" font-family="'Liberation Serif', 'Times New Roman', serif" font-size="29.5" font-weight="bold" text-anchor="middle">L111</text>
<text x="1684" y="1190.7" font-family="'Liberation Serif', 'Times New Roman', serif" font-size="29.5" font-weight="bold" text-anchor="middle">L321</text>
<text x="1831.6" y="1190.7" font-family="'Liberation Serif', 'Times New Roman', serif" font-size="29.5" font-weight="bold" text-anchor="middle">MM</text>
<text x="1979.2" y="1190.7" font-family="'Liberation Serif', 'Times New Roman', serif" font-size="29.5" font-weight="bold" text-anchor="middle">Control</text>
<line x1="1241.2" y1="850.5" x2="1241.2" y2="937.8" stroke="#000" stroke-width="1.7" stroke-linecap="butt"/>
<line x1="1241.2" y1="1001.1" x2="1241.2" y2="1057.4" stroke="#000" stroke-width="1.7" stroke-linecap="butt"/>
<line x1="1234.6" y1="850.5" x2="1247.8" y2="850.5" stroke="#000" stroke-width="1.8" stroke-linecap="butt"/>
<line x1="1234.6" y1="1057.4" x2="1247.8" y2="1057.4" stroke="#000" stroke-width="1.8" stroke-linecap="butt"/>
<rect x="1212" y="937.8" width="58.4" height="63.3" fill="#fff" stroke="#000" stroke-width="2.8"/>
<line x1="1212" y1="963.4" x2="1270.4" y2="963.4" stroke="#000" stroke-width="2.8" stroke-linecap="butt"/>
<line x1="1388.8" y1="835.7" x2="1388.8" y2="918.9" stroke="#000" stroke-width="1.7" stroke-linecap="butt"/>
<line x1="1388.8" y1="1012.9" x2="1388.8" y2="1072.5" stroke="#000" stroke-width="1.7" stroke-linecap="butt"/>
<line x1="1382.2" y1="835.7" x2="1395.4" y2="835.7" stroke="#000" stroke-width="1.8" stroke-linecap="butt"/>
<line x1="1382.2" y1="1072.5" x2="1395.4" y2="1072.5" stroke="#000" stroke-width="1.8" stroke-linecap="butt"/>
<rect x="1359.6" y="918.9" width="58.4" height="94" fill="#fff" stroke="#000" stroke-width="2.8"/>
<line x1="1359.6" y1="978.5" x2="1418" y2="978.5" stroke="#000" stroke-width="2.8" stroke-linecap="butt"/>
<line x1="1536.4" y1="820.9" x2="1536.4" y2="933.1" stroke="#000" stroke-width="1.7" stroke-linecap="butt"/>
<line x1="1536.4" y1="1015.6" x2="1536.4" y2="1054.7" stroke="#000" stroke-width="1.7" stroke-linecap="butt"/>
<line x1="1529.8" y1="820.9" x2="1543" y2="820.9" stroke="#000" stroke-width="1.8" stroke-linecap="butt"/>
<line x1="1529.8" y1="1054.7" x2="1543" y2="1054.7" stroke="#000" stroke-width="1.8" stroke-linecap="butt"/>
<rect x="1507.2" y="933.1" width="58.4" height="82.5" fill="#fff" stroke="#000" stroke-width="2.8"/>
<line x1="1507.2" y1="975.8" x2="1565.6" y2="975.8" stroke="#000" stroke-width="2.8" stroke-linecap="butt"/>
<line x1="1684" y1="790.8" x2="1684" y2="945" stroke="#000" stroke-width="1.7" stroke-linecap="butt"/>
<line x1="1684" y1="1006.7" x2="1684" y2="1055.8" stroke="#000" stroke-width="1.7" stroke-linecap="butt"/>
<line x1="1677.4" y1="790.8" x2="1690.6" y2="790.8" stroke="#000" stroke-width="1.8" stroke-linecap="butt"/>
<line x1="1677.4" y1="1055.8" x2="1690.6" y2="1055.8" stroke="#000" stroke-width="1.8" stroke-linecap="butt"/>
<rect x="1654.8" y="945" width="58.4" height="61.7" fill="#fff" stroke="#000" stroke-width="2.8"/>
<line x1="1654.8" y1="978.4" x2="1713.2" y2="978.4" stroke="#000" stroke-width="2.8" stroke-linecap="butt"/>
<line x1="1831.6" y1="806.7" x2="1831.6" y2="921.8" stroke="#000" stroke-width="1.7" stroke-linecap="butt"/>
<line x1="1831.6" y1="979.7" x2="1831.6" y2="1043" stroke="#000" stroke-width="1.7" stroke-linecap="butt"/>
<line x1="1825" y1="806.7" x2="1838.2" y2="806.7" stroke="#000" stroke-width="1.8" stroke-linecap="butt"/>
<line x1="1825" y1="1043" x2="1838.2" y2="1043" stroke="#000" stroke-width="1.8" stroke-linecap="butt"/>
<rect x="1802.4" y="921.8" width="58.4" height="57.9" fill="#fff" stroke="#000" stroke-width="2.8"/>
<line x1="1802.4" y1="957.2" x2="1860.8" y2="957.2" stroke="#000" stroke-width="2.8" stroke-linecap="butt"/>
<line x1="1979.2" y1="905" x2="1979.2" y2="971" stroke="#000" stroke-width="1.7" stroke-linecap="butt"/>
<line x1="1979.2" y1="1013.4" x2="1979.2" y2="1062.9" stroke="#000" stroke-width="1.7" stroke-linecap="butt"/>
<line x1="1972.6" y1="905" x2="1985.8" y2="905" stroke="#000" stroke-width="1.8" stroke-linecap="butt"/>
<line x1="1972.6" y1="1062.9" x2="1985.8" y2="1062.9" stroke="#000" stroke-width="1.8" stroke-linecap="butt"/>
<rect x="1950" y="971" width="58.4" height="42.4" fill="#fff" stroke="#000" stroke-width="2.8"/>
<line x1="1950" y1="992.9" x2="2008.4" y2="992.9" stroke="#000" stroke-width="2.8" stroke-linecap="butt"/>
<text x="1429.3" y="708.2" font-family="'Liberation Serif', 'Times New Roman', serif" font-size="46.3" font-weight="bold" text-anchor="start">Total Weight Dry</text>
<text x="1610.8" y="1238.5" font-family="'Liberation Serif', 'Times New Roman', serif" font-size="35" font-weight="bold" text-anchor="middle">Treatment</text>
<text transform="translate(1096.5,950.8) rotate(-90)" font-family="'Liberation Serif', 'Times New Roman', serif" font-size="35" font-weight="bold" text-anchor="middle">Dry weight (g)</text>
<text x="1051.5" y="689.7" font-family="'Liberation Sans', Arial, sans-serif" font-size="46.5" font-weight="bold" text-anchor="start">D</text>
<text x="1812.6" y="790.8" font-family="'Noto Serif CJK SC', 'Noto Serif CJK JP', 'Liberation Serif', serif" font-size="36" font-weight="900" letter-spacing="2.9">**</text>
<line x1="1832.3" y1="802.3" x2="1832.3" y2="807" stroke="#000" stroke-width="1.7" stroke-linecap="butt"/>
</svg>
</body></html>
